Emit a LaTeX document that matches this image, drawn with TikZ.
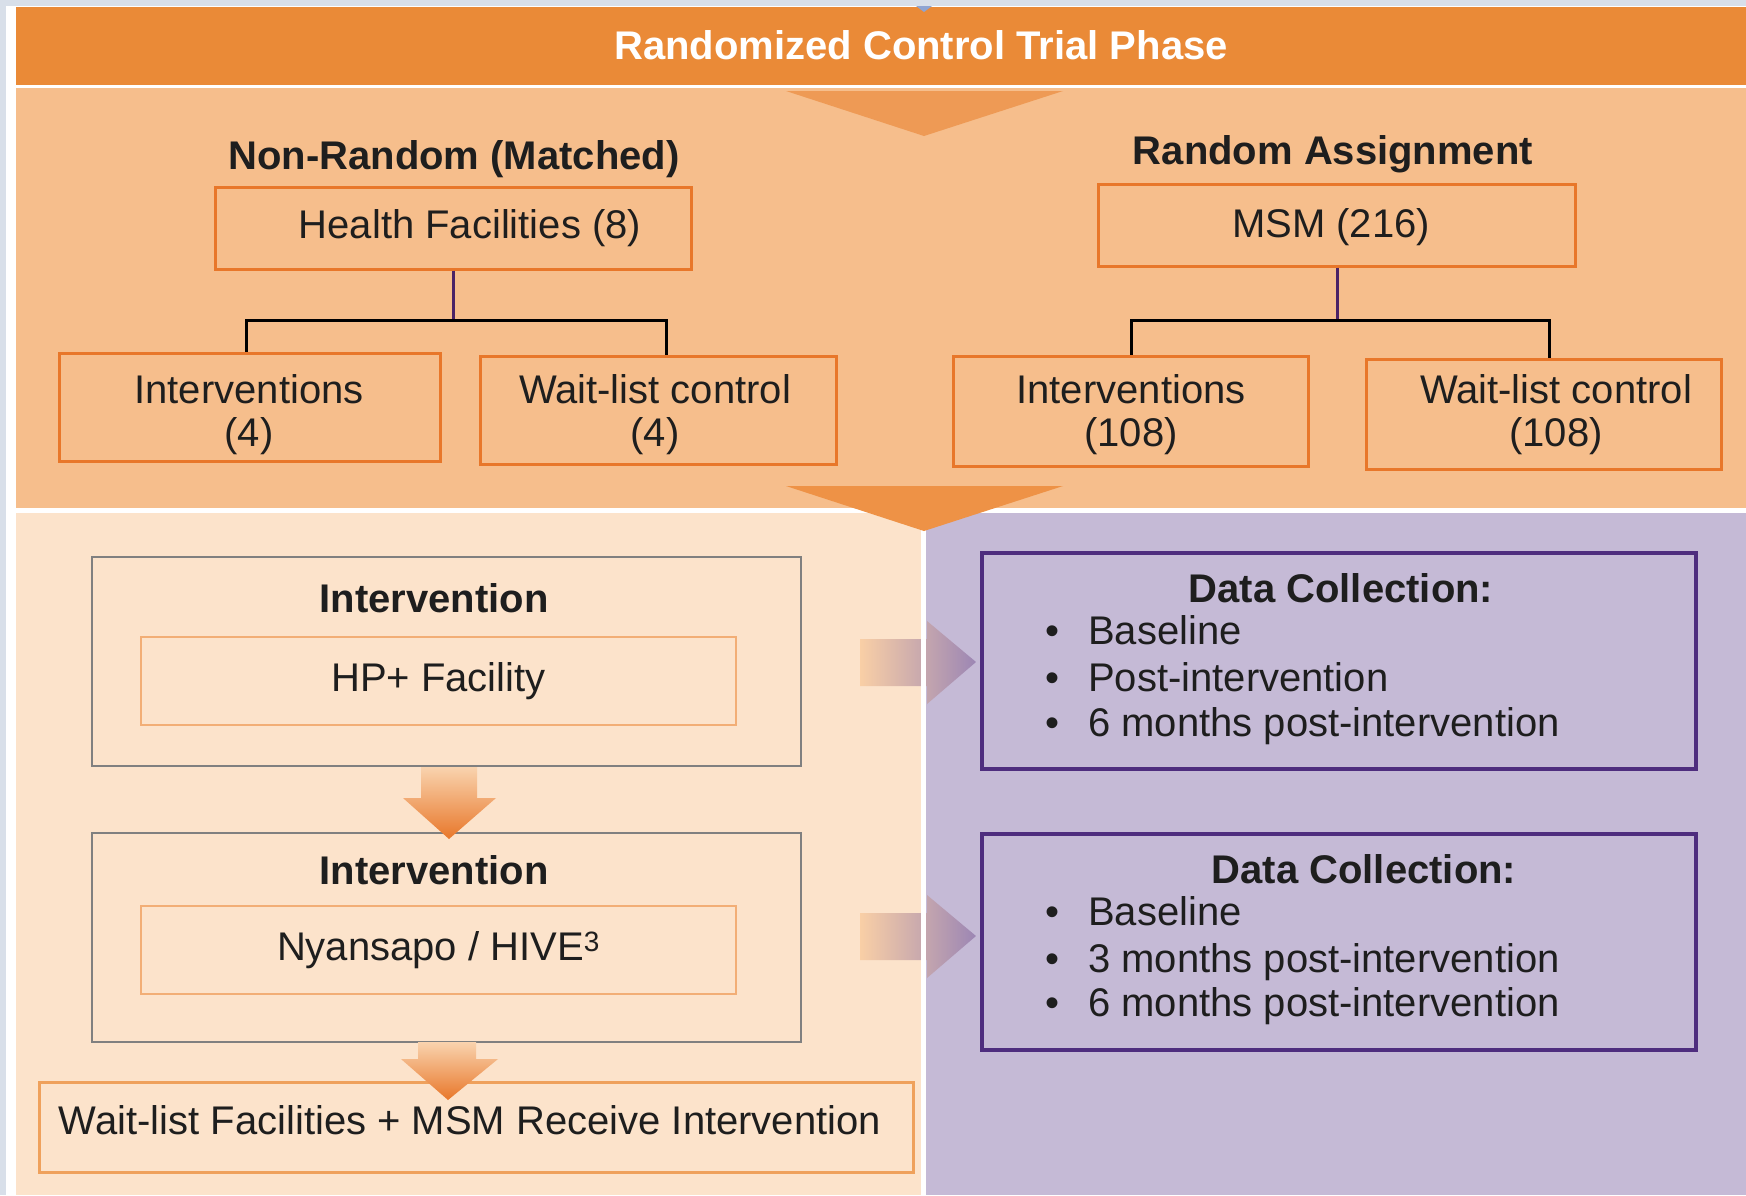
\documentclass[tikz,border=0pt]{standalone}
\usepackage{fontspec}
\setmainfont{Liberation Sans}
\usetikzlibrary{calc}

\definecolor{bgstrip}{HTML}{D8DFE9}
\definecolor{titlebar}{HTML}{EA8A37}
\definecolor{midband}{HTML}{F6BE8C}
\definecolor{peach}{HTML}{FCE3CB}
\definecolor{lilac}{HTML}{C5BAD6}
\definecolor{boxorange}{HTML}{E8772A}
\definecolor{softorange}{HTML}{F2AE76}
\definecolor{lineorange}{HTML}{EFA15C}
\definecolor{darkpurple}{HTML}{4E2D7E}
\definecolor{linkpurple}{HTML}{4B2366}
\definecolor{txt}{HTML}{1E1E1E}
\definecolor{trione}{HTML}{EE9A55}
\definecolor{tritwo}{HTML}{EE9246}
\definecolor{arrowtop}{HTML}{F9D3AE}
\definecolor{arrowlight}{HTML}{F9CFA6}
\definecolor{arrowpurple}{HTML}{9C86B4}
\definecolor{tipblue}{HTML}{8EA4D2}

\begin{document}
\begin{tikzpicture}[x=1pt,y=-1pt,
  every node/.style={font=\fontsize{40}{43}\selectfont, text=txt, inner sep=0pt},
  hdr/.style={font=\fontsize{40}{43}\selectfont\bfseries},
  obox/.style={draw=boxorange, line width=3pt},
  boxtext/.style={align=center},
  graybox/.style={draw=black!50, line width=1.5pt},
  softbox/.style={draw=softorange, line width=2.5pt, align=center},
  databox/.style={draw=darkpurple, line width=3.5pt, minimum width=714pt, minimum height=216pt},
  bulletmark/.style={anchor=base},
  bullettext/.style={anchor=base west},
  link/.style={line width=3pt}
]
\useasboundingbox (0,0) rectangle (1746,1195);

% background bands
\fill[bgstrip] (0,0) rectangle (1746,1195);
\fill[white] (6,6) rectangle (1746,1195);
\fill[titlebar] (16,7) rectangle (1746,85);
\fill[midband] (16,88) rectangle (1746,508);
\fill[peach] (16,513) rectangle (921,1195);
\fill[lilac] (926,513) rectangle (1746,1195);
\fill[tipblue] (916,6) -- (932,6) -- (924,12) -- cycle;

% title
\node[hdr, text=white] (title) at (921,45) {Randomized Control Trial Phase};

% upper funnel triangle
\fill[trione] (786,91) -- (1063,91) -- (924,136) -- cycle;

% group headings
\node[hdr] (nonrand) at (454,159) {Non-Random (Matched)};
\node[hdr] (randasg) at (1333,154) {Random Assignment};

% allocation boxes
\node[obox, minimum width=476pt, minimum height=82pt] (hf) at (453,228) {};
\node[boxtext] (hft) at (470,228) {Health Facilities (8)};
\node[obox, minimum width=477pt, minimum height=82pt] (msm) at (1337,225) {};
\node[boxtext] (msmt) at (1331,227) {MSM (216)};
\node[obox, minimum width=381pt, minimum height=108pt] (int4) at (250,407) {};
\node[boxtext] (int4t) at (249,415) {Interventions\\(4)};
\node[obox, minimum width=356pt, minimum height=108pt] (wl4) at (658,410) {};
\node[boxtext] (wl4t) at (655,415) {Wait-list control\\(4)};
\node[obox, minimum width=355pt, minimum height=110pt] (int108) at (1131,411) {};
\node[boxtext] (int108t) at (1131,415) {Interventions\\(108)};
\node[obox, minimum width=355pt, minimum height=110pt] (wl108) at (1544,414) {};
\node[boxtext] (wl108t) at (1556,415) {Wait-list control\\(108)};

% tree connectors
\coordinate (lvl) at (0,320);
\coordinate (int4drop) at ($(int4.north)+(-4,0)$);
\coordinate (wl4drop) at ($(wl4.north)+(8,0)$);
\coordinate (wl108drop) at ($(wl108.north)+(5,0)$);
\draw[link, linkpurple] (hf.south) -- (hf.south |- lvl);
\draw[link, black] (int4drop) |- (hf.south |- lvl) -| (wl4drop);
\draw[link, linkpurple] (msm.south) -- (msm.south |- lvl);
\draw[link, black] (int108.north) |- (msm.south |- lvl) -| (wl108drop);

% right-pointing block arrows into the data collection panels
\shade[left color=arrowlight, right color=arrowpurple]
  (860,639) -- (927,639) -- (927,621) -- (976,662) -- (927,704) -- (927,686) -- (860,686) -- cycle;
\shade[left color=arrowlight, right color=arrowpurple]
  (860,913) -- (927,913) -- (927,895) -- (976,936) -- (927,978) -- (927,960) -- (860,960) -- cycle;

% white divider between the lower panels
\fill[white] (921,513) rectangle (926,1195);

% lower funnel triangle
\fill[tritwo] (786,486) -- (1063,486) -- (924,531) -- cycle;

% intervention stages
\node[graybox, minimum width=709pt, minimum height=209pt] (stage1) at (446.5,661.5) {};
\node[hdr] (stage1h) at (434,598) {Intervention};
\node[softbox, minimum width=595pt, minimum height=88pt] (hp) at (438.5,681) {HP+ Facility};

\node[graybox, minimum width=709pt, minimum height=209pt] (stage2) at (446.5,937.5) {};
\node[hdr] (stage2h) at (434,870) {Intervention};
\node[softbox, minimum width=595pt, minimum height=88pt] (ny) at (438.5,950) {Nyansapo / HIVE\textsuperscript{3}};

\node[draw=lineorange, line width=3pt, minimum width=874pt, minimum height=90pt] (final) at (476,1127) {};
\node (finaltxt) at (470,1120) {Wait-list Facilities + MSM Receive Intervention};

% downward block arrows between stages
\shade[top color=arrowtop, bottom color=boxorange]
  (421,767) -- (477,767) -- (477,798) -- (496,798) -- (449,839) -- (403,798) -- (421,798) -- cycle;
\shade[top color=arrowtop, bottom color=boxorange]
  (418,1042) -- (476,1042) -- (476,1059) -- (498,1059) -- (448,1100) -- (401,1059) -- (418,1059) -- cycle;

% data collection panels
\node[databox] (dc1) at (1339,661) {};
\node[hdr] (dc1h) at (1341,588) {Data Collection:};
\node[bulletmark] (b11) at (1052,644) {•};
\node[bullettext] (t11) at (1088,644) {Baseline};
\node[bulletmark] (b12) at (1052,691) {•};
\node[bullettext] (t12) at (1088,691) {Post-intervention};
\node[bulletmark] (b13) at (1052,736) {•};
\node[bullettext] (t13) at (1088,736) {6 months post-intervention};

\node[databox] (dc2) at (1339,942) {};
\node[hdr] (dc2h) at (1364,869) {Data Collection:};
\node[bulletmark] (b21) at (1052,925) {•};
\node[bullettext] (t21) at (1088,925) {Baseline};
\node[bulletmark] (b22) at (1052,972) {•};
\node[bullettext] (t22) at (1088,972) {3 months post-intervention};
\node[bulletmark] (b23) at (1052,1016) {•};
\node[bullettext] (t23) at (1088,1016) {6 months post-intervention};
\end{tikzpicture}
\end{document}
